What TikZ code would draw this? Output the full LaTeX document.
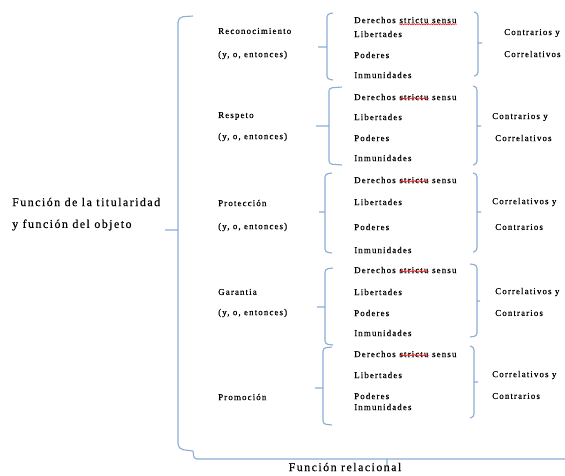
\documentclass[tikz,border=0pt]{standalone}
\usepackage{fontspec}
\setmainfont{Liberation Serif}[LetterSpace=12,FakeBold=0.4]
\usepackage{xcolor}
\usepackage{tikz}
\usetikzlibrary{decorations.pathmorphing,positioning}

\definecolor{braceblue}{RGB}{140,172,212}

\begin{document}
\begin{tikzpicture}[
        x=1pt, y=-1pt,
        node distance=3.3pt,
        item/.style={anchor=west, inner sep=0pt, font=\fontsize{9}{10}\selectfont},
        title/.style={anchor=west, inner sep=0pt, font=\fontsize{12}{14}\selectfont},
        bracket/.style={draw=braceblue, line width=1.1pt, rounded corners=3pt},
        wavy/.style={decorate, decoration={snake, amplitude=0.6pt, segment length=2.4pt}, draw=red, line width=0.5pt}
    ]
                \clip (0,0) rectangle (565,475);

                % left side
                \node[title] (tit1) at (12,202) {Función de la titularidad};
                \node[title] (tit2) at (12,225) {y función del objeto};

                \draw[
                    bracket,
                    rounded corners=5pt
                    ] (193,16) -- (178,17) -- (178,449) -- (193,451)
                      (178,230) -- (165,230);

                % middle column
                \node[item] (rec)   at (218,31)  {Reconocimiento};
                \node[item] (recc)  at (218,55)  {(y, o, entonces)};
                \node[item] (resp)  at (218,116) {Respeto};
                \node[item] (respc) at (218,137) {(y, o, entonces)};
                \node[item] (prot)  at (218,203) {Protección};
                \node[item] (protc) at (218,227) {(y, o, entonces)};
                \node[item] (gar)   at (218,292) {Garantia};
                \node[item] (garc)  at (218,313) {(y, o, entonces)};
                \node[item] (prom)  at (218,397) {Promoción};

                % first group
                \draw[bracket] (333,13) -- (327,14) -- (327,79) -- (333,80) (327,47) -- (318,47);
                \node[item] (d1) at (354,20) {Derechos};
                \node[item, base right=of d1] (s1) {strictu};
                \node[item, base right=of s1] (e1) {sensu};
                \draw[wavy] ([yshift=-1.2pt]s1.base west) to ([yshift=-1.2pt]e1.base east);
                \node[item] (l1) at (354,34) {Libertades};
                \node[item] (p1) at (354,55) {Poderes};
                \node[item] (i1) at (354,75) {Inmunidades};
                \draw[bracket] (474,12) -- (478,13) -- (478,75) -- (474,76) (478,43) -- (482,43);
                \node[item] (a1) at (504,33) {Contrarios y};
                \node[item] (b1) at (504,54) {Correlativos};

                % second group
                \draw[bracket] (342,87) -- (329,88) -- (329,164) -- (342,165) (329,126) -- (316,126);
                \node[item] (d2) at (354,97)  {Derechos};
                \node[item, base right=of d2] (s2) {strictu};
                \node[item, base right=of s2] (e2) {sensu};
                \draw[wavy] ([yshift=1.8pt]s2.base west) to ([yshift=1.8pt]s2.base east);
                \node[item] (l2) at (354,117) {Libertades};
                \node[item] (p2) at (354,138) {Poderes};
                \node[item] (i2) at (354,158) {Inmunidades};
                \draw[bracket] (473,86) -- (477,87) -- (477,164) -- (473,165) (477,126) -- (481,126);
                \node[item] (a2) at (492,117) {Contrarios y};
                \node[item] (b2) at (495,138) {Correlativos};

                % third group
                \draw[bracket] (332,173) -- (325,174) -- (325,252) -- (332,253) (325,212) -- (319,212);
                \node[item] (d3) at (354,180) {Derechos};
                \node[item, base right=of d3] (s3) {strictu};
                \node[item, base right=of s3] (e3) {sensu};
                \draw[wavy] ([yshift=1.8pt]s3.base west) to ([yshift=1.8pt]s3.base east);
                \node[item] (l3) at (354,202) {Libertades};
                \node[item] (p3) at (354,227) {Poderes};
                \node[item] (i3) at (354,250) {Inmunidades};
                \draw[bracket] (473,173) -- (477,174) -- (477,251) -- (473,252) (477,212) -- (481,212);
                \node[item] (a3) at (492,202) {Correlativos y};
                \node[item] (b3) at (495,227) {Contrarios};

                % fourth group
                \draw[bracket] (333,268) -- (325,269) -- (325,344) -- (333,345) (325,307) -- (317,307);
                \node[item] (d4) at (354,270) {Derechos};
                \node[item, base right=of d4] (s4) {strictu};
                \node[item, base right=of s4] (e4) {sensu};
                \draw[wavy] ([yshift=1.8pt]s4.base west) to ([yshift=1.8pt]s4.base east);
                \node[item] (l4) at (354,292) {Libertades};
                \node[item] (p4) at (354,313) {Poderes};
                \node[item] (i4) at (354,333) {Inmunidades};
                \draw[bracket] (470,264) -- (477,265) -- (477,336) -- (470,337) (477,301) -- (480,301);
                \node[item] (a4) at (495,292) {Correlativos y};
                \node[item] (b4) at (495,313) {Contrarios};

                % fifth group
                \draw[bracket] (332,347) -- (323,348) -- (323,424) -- (332,425) (323,388) -- (315,388);
                \node[item] (d5) at (354,354) {Derechos};
                \node[item, base right=of d5] (s5) {strictu};
                \node[item, base right=of s5] (e5) {sensu};
                \draw[wavy] ([yshift=1.8pt]s5.base west) to ([yshift=1.8pt]s5.base east);
                \node[item] (l5) at (354,375) {Libertades};
                \node[item] (p5) at (354,396) {Poderes};
                \node[item] (i5) at (354,407) {Inmunidades};
                \draw[bracket] (470,346) -- (474,347) -- (474,417) -- (470,418) (474,382) -- (478,382);
                \node[item] (a5) at (492,375) {Correlativos y};
                \node[item] (b5) at (492,396) {Contrarios};

                % bottom
                \draw[
                    bracket
                    ] (193,451) -- (194,459) -- (581,459)
                      (387,459) -- (387,466);
                \node[title, anchor=center] (rel) at (345,467) {Función relacional};

\end{tikzpicture}
\end{document}
